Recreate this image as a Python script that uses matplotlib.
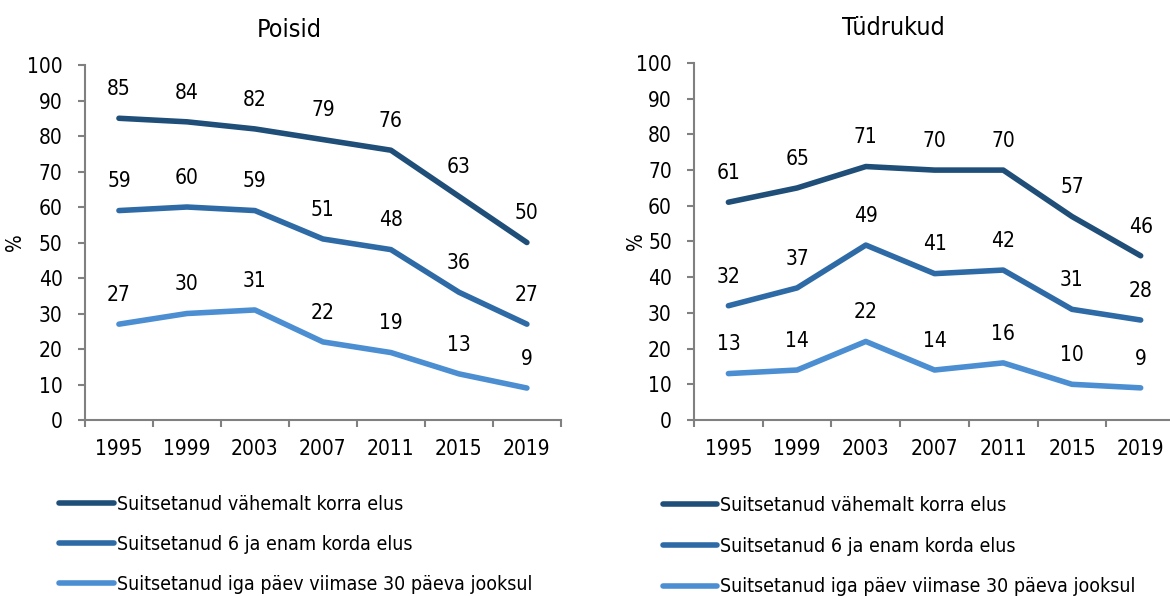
import matplotlib
matplotlib.use("Agg")
import matplotlib.pyplot as plt

years = ["1995", "1999", "2003", "2007", "2011", "2015", "2019"]
series_names = [
    "Suitsetanud vähemalt korra elus",
    "Suitsetanud 6 ja enam korda elus",
    "Suitsetanud iga päev viimase 30 päeva jooksul",
]
boys_ever = [85, 84, 82, 79, 76, 63, 50]
boys_six = [59, 60, 59, 51, 48, 36, 27]
boys_daily = [27, 30, 31, 22, 19, 13, 9]
girls_ever = [61, 65, 71, 70, 70, 57, 46]
girls_six = [32, 37, 49, 41, 42, 31, 28]
girls_daily = [13, 14, 22, 14, 16, 10, 9]

colors = ["#1F4E79", "#2E6BA6", "#4C8ED2"]

plt.rcParams["font.family"] = ["DejaVu Sans"]
plt.rcParams["font.stretch"] = "condensed"
FS = 15

fig = plt.figure(figsize=(11.7, 5.96), dpi=100)
ax_boys = fig.add_axes([0.0726, 0.2953, 0.4068, 0.5956])
ax_girls = fig.add_axes([0.5932, 0.2953, 0.4111, 0.5990])


def draw_panel(ax, title, data, title_x):
    x = list(range(len(years)))
    handles = []
    for vals, name, col in zip(data, series_names, colors):
        h, = ax.plot(x, vals, color=col, lw=4, solid_capstyle="round",
                     solid_joinstyle="round", label=name)
        handles.append(h)
        for xi, v in zip(x, vals):
            ax.annotate(str(v), (xi, v), xytext=(0, 21), textcoords="offset points",
                        ha="center", va="center", fontsize=FS, color="black")
    ax.set_xlim(-0.5, len(years) - 0.5)
    ax.set_ylim(0, 100)
    ax.set_yticks(range(0, 101, 10))
    ax.set_xticks(x)
    ax.set_xticklabels(years)
    ax.set_xticks([i - 0.5 for i in range(len(years) + 1)], minor=True)
    ax.tick_params(axis="x", which="major", length=0, pad=14, labelsize=FS)
    ax.tick_params(axis="x", which="minor", length=5, width=1.5, color="#808080")
    ax.tick_params(axis="y", length=5, width=1.5, color="#808080", pad=11, labelsize=FS)
    for side in ["top", "right"]:
        ax.spines[side].set_visible(False)
    for side in ["left", "bottom"]:
        ax.spines[side].set_color("#808080")
        ax.spines[side].set_linewidth(1.5)
    ax.set_ylabel("%", fontsize=FS)
    ax.set_title(title, fontsize=18, x=title_x, pad=20)
    return handles


h1 = draw_panel(ax_boys, "Poisid", [boys_ever, boys_six, boys_daily], 0.43)
h2 = draw_panel(ax_girls, "Tüdrukud", [girls_ever, girls_six, girls_daily], 0.414)
ax_boys.yaxis.set_label_coords(-0.125, 0.5)
ax_girls.yaxis.set_label_coords(-0.10, 0.5)

fig.legend(handles=h1, loc="upper left", bbox_to_anchor=(0.044, 0.183),
           frameon=False, fontsize=14, handlelength=2.8, handletextpad=0.15,
           labelspacing=1.08, borderaxespad=0)
fig.legend(handles=h2, loc="upper left", bbox_to_anchor=(0.560, 0.181),
           frameon=False, fontsize=14, handlelength=2.8, handletextpad=0.15,
           labelspacing=1.12, borderaxespad=0)

fig.savefig("out.png", dpi=100)
